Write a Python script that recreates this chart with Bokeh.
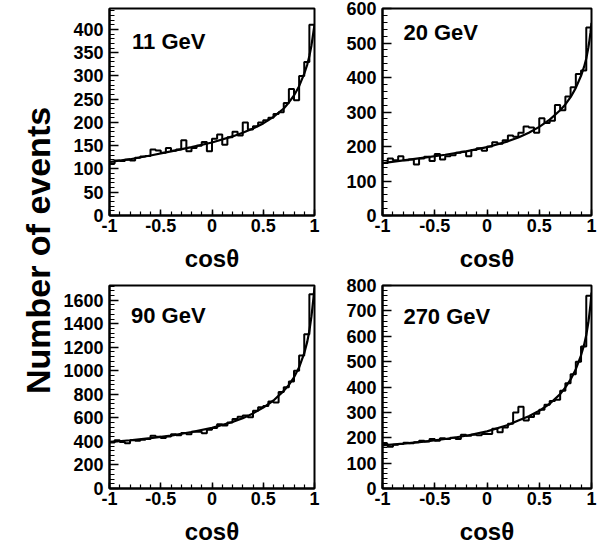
import numpy as np
from bokeh.plotting import figure
from bokeh.layouts import row, column
from bokeh.models import Range1d, FixedTicker, Label, CustomJSTickFormatter
from bokeh.embed import file_html
from bokeh.resources import INLINE

# ---------------- data ----------------
panel_titles = ["11 GeV", "20 GeV", "90 GeV", "270 GeV"]
bin_low, bin_high, n_bins = -1.0, 1.0, 40

counts_11 = [112, 118, 117, 120, 118, 124, 127, 128, 142, 140,
             135, 145, 139, 142, 162, 138, 145, 150, 158, 138,
             165, 174, 152, 168, 180, 172, 200, 185, 192, 200,
             205, 210, 218, 222, 242, 272, 248, 300, 330, 410]
counts_20 = [152, 165, 160, 172, 160, 162, 148, 165, 170, 158,
             178, 162, 172, 175, 182, 185, 172, 190, 195, 188,
             200, 212, 208, 218, 232, 228, 240, 258, 255, 240,
             282, 268, 275, 320, 305, 345, 372, 410, 420, 545]
counts_90 = [390, 410, 395, 385, 410, 405, 415, 420, 448, 440,
             430, 442, 460, 452, 472, 462, 482, 482, 470, 500,
             515, 545, 535, 560, 590, 610, 620, 605, 660, 690,
             700, 740, 730, 820, 860, 910, 1000, 1130, 1310, 1650]
counts_270 = [175, 165, 172, 175, 180, 178, 182, 188, 185, 195,
              188, 198, 195, 200, 195, 212, 208, 212, 210, 215,
              215, 235, 222, 240, 255, 300, 322, 268, 282, 295,
              310, 330, 345, 350, 385, 415, 450, 500, 560, 760]

curve_x = [-1.0, -0.8, -0.6, -0.4, -0.2, 0.0, 0.2, 0.3, 0.4, 0.5, 0.6,
           0.7, 0.75, 0.8, 0.85, 0.9, 0.93, 0.95, 0.97, 0.98, 0.99, 1.0]
curve_11 = [115, 121, 129, 138, 147, 157, 170, 178, 187, 198, 212,
            230, 243, 258, 278, 305, 325, 343, 365, 380, 395, 410]
curve_20 = [152, 160, 168, 176, 186, 198, 215, 226, 240, 257, 278,
            305, 322, 343, 370, 405, 432, 455, 487, 507, 530, 558]
curve_90 = [395, 410, 428, 450, 480, 515, 565, 598, 638, 688, 748,
            830, 880, 945, 1030, 1150, 1250, 1340, 1460, 1540, 1620, 1710]
curve_270 = [170, 177, 185, 195, 208, 225, 250, 268, 285, 306, 334,
             372, 398, 430, 470, 525, 568, 605, 655, 688, 725, 772]

y_max = [445, 600, 1725, 800]
y_major_step = [50, 100, 200, 100]
y_minor_step = [10, 20, 40, 20]
y_label_max = [400, 600, 1600, 800]
x_major_ticks = [-1, -0.5, 0, 0.5, 1]
x_minor_step = 0.1

title_pos = [(-0.78, 375), (-0.80, 530), (-0.79, 1474), (-0.80, 676)]

# ---------------- layout constants ----------------
FONT = "Liberation Sans"
fmt = CustomJSTickFormatter(code="return String(Math.round(tick*1000)/1000);")


def make_panel(i, counts, curve_y, left_border, frame_w, top_border,
               frame_h, bottom_border):
    p = figure(width=left_border + frame_w + 6,
               height=top_border + frame_h + bottom_border,
               x_range=Range1d(bin_low, bin_high),
               y_range=Range1d(0, y_max[i]),
               output_backend="svg", toolbar_location=None,
               min_border_left=left_border, min_border_right=6,
               min_border_top=top_border, min_border_bottom=bottom_border)
    p.grid.visible = False
    p.outline_line_color = "black"
    p.outline_line_width = 2
    p.background_fill_color = "white"
    p.border_fill_color = "white"

    edges = np.linspace(bin_low, bin_high, n_bins + 1)
    xs = list(edges)
    ys = list(counts) + [counts[-1]]
    p.step(xs, ys, mode="after", line_color="black", line_width=2)
    p.line(curve_x, curve_y, line_color="black", line_width=2.2)

    xt = FixedTicker(ticks=x_major_ticks,
                     minor_ticks=list(np.round(np.arange(-1.0, 1.0001, x_minor_step), 3)))
    yt = FixedTicker(ticks=list(range(0, y_label_max[i] + 1, y_major_step[i])),
                     minor_ticks=list(range(0, y_max[i] + 1, y_minor_step[i])))
    p.xaxis.ticker = xt
    p.yaxis.ticker = yt
    for ax in (p.xaxis[0], p.yaxis[0]):
        ax.formatter = fmt
        ax.axis_line_width = 2
        ax.axis_line_color = "black"
        ax.major_tick_out = 0
        ax.minor_tick_out = 0
        ax.major_tick_line_width = 1.5
        ax.minor_tick_line_width = 1.2
        ax.major_label_text_font = FONT
        ax.major_label_text_font_style = "bold"
        ax.major_label_text_font_size = "18px"
        ax.major_label_text_color = "black"
    p.xaxis.major_tick_in = 6
    p.xaxis.minor_tick_in = 4
    p.yaxis.major_tick_in = 9
    p.yaxis.minor_tick_in = 5
    p.xaxis.major_label_standoff = 3
    p.yaxis.major_label_standoff = 6
    p.xaxis.axis_label = "cosθ"
    p.xaxis.axis_label_text_font = FONT
    p.xaxis.axis_label_text_font_style = "bold"
    p.xaxis.axis_label_text_font_size = "24px"
    p.xaxis.axis_label_text_color = "black"
    p.xaxis.axis_label_standoff = 10

    tx, ty = title_pos[i]
    p.add_layout(Label(x=tx, y=ty, text=panel_titles[i], text_font=FONT,
                       text_font_style="bold", text_font_size="22px",
                       text_align="left", text_baseline="middle",
                       text_color="black"))
    return p


p1 = make_panel(0, counts_11, curve_11, 47, 207, 8, 207, 62)
p2 = make_panel(1, counts_20, curve_20, 62, 209, 8, 207, 62)
p3 = make_panel(2, counts_90, curve_90, 47, 207, 8, 206, 56)
p4 = make_panel(3, counts_270, curve_270, 62, 209, 8, 206, 56)

lab = figure(width=60, height=547, x_range=Range1d(0, 1), y_range=Range1d(0, 1),
             output_backend="svg", toolbar_location=None,
             x_axis_location=None, y_axis_location=None,
             min_border=0)
lab.grid.visible = False
lab.outline_line_color = None
lab.add_layout(Label(x=0.62, y=0.543, text="Number of events", angle=np.pi / 2,
                     text_align="center", text_baseline="middle",
                     text_font=FONT, text_font_style="bold",
                     text_font_size="34px", text_color="black"))

layout = row(lab, column(p1, p3), column(p2, p4))

open("out.html", "w").write(file_html(layout, INLINE))
